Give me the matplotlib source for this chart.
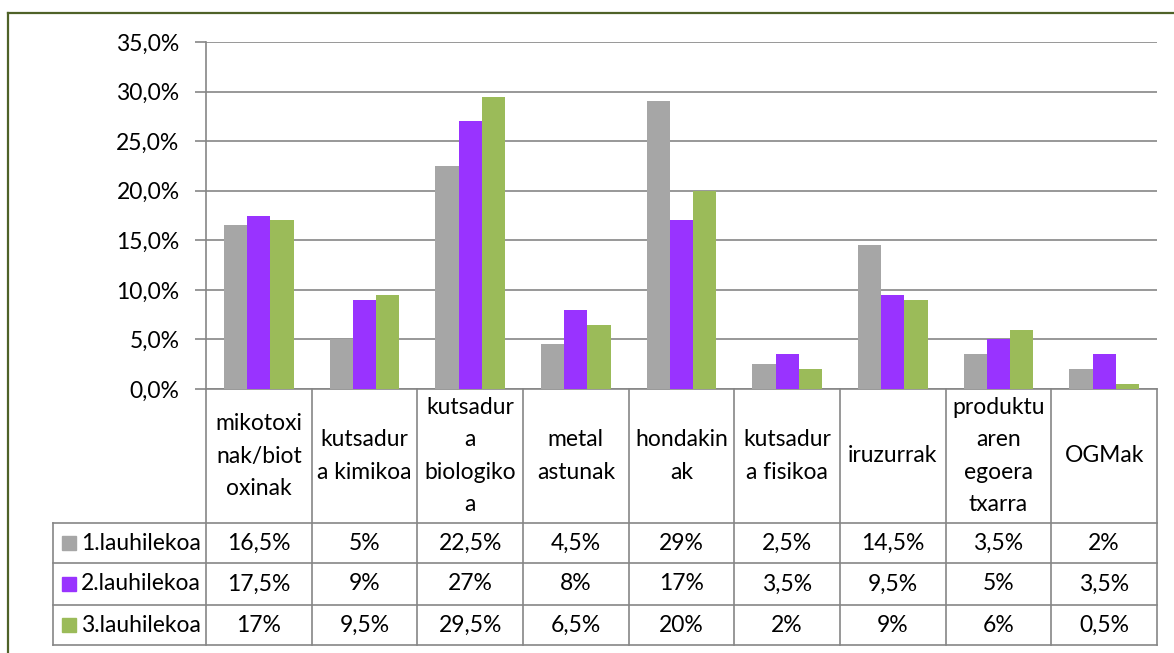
import numpy as np
import matplotlib
matplotlib.use('Agg')
import matplotlib.pyplot as plt
from matplotlib.lines import Line2D
from matplotlib.patches import Rectangle
from matplotlib.transforms import blended_transform_factory

plt.rcParams['font.family'] = ['Lato', 'DejaVu Sans']

# data
categories = ['mikotoxi\nnak/biot\noxinak', 'kutsadur\na kimikoa',
              'kutsadur\na\nbiologiko\na', 'metal\nastunak', 'hondakin\nak',
              'kutsadur\na fisikoa', 'iruzurrak',
              'produktu\naren\negoera\ntxarra', 'OGMak']
series_names = ['1.lauhilekoa', '2.lauhilekoa', '3.lauhilekoa']
lauhil_1 = [16.5, 5, 22.5, 4.5, 29, 2.5, 14.5, 3.5, 2]
lauhil_2 = [17.5, 9, 27, 8, 17, 3.5, 9.5, 5, 3.5]
lauhil_3 = [17, 9.5, 29.5, 6.5, 20, 2, 9, 6, 0.5]
yticks = [0, 5, 10, 15, 20, 25, 30, 35]

colors = ['#A6A6A6', '#9933FF', '#9BBB59']
grid_c = '#868686'
W, H = 1174, 653
FS = 16.5


def pct(v):
    if float(v).is_integer():
        return '%d%%' % v
    return ('%.1f%%' % v).replace('.', ',')


fig = plt.figure(figsize=(W / 100, H / 100), dpi=100)
ax = fig.add_axes([206 / W, 1 - 389 / H, (1157 - 206) / W, (389 - 42) / H])

x = np.arange(len(categories))
bw = 0.22
for i, vals in enumerate([lauhil_1, lauhil_2, lauhil_3]):
    ax.bar(x + (i - 1) * bw, vals, bw, color=colors[i], zorder=3)

ax.set_xlim(-0.5, len(categories) - 0.5)
ax.set_ylim(0, 35)
ax.set_yticks(yticks)
ax.set_yticklabels([('%.1f%%' % t).replace('.', ',') for t in yticks], fontsize=FS)
ax.yaxis.grid(True, color=grid_c, lw=1.2, zorder=0)
ax.tick_params(axis='y', length=8, width=1.2, color=grid_c, pad=11)
ax.set_xticks([])
for s in ['top', 'right']:
    ax.spines[s].set_visible(False)
for s in ['left', 'bottom']:
    ax.spines[s].set_color(grid_c)
    ax.spines[s].set_linewidth(1.2)

# data table below the axes
fy = lambda py: 1 - py / H
tr = blended_transform_factory(ax.transData, fig.transFigure)
row_y = [523, 563, 605, 645]
x_left = 53 / W
x_right = 1157 / W
for py in row_y:
    fig.add_artist(Line2D([x_left, x_right], [fy(py)] * 2, color=grid_c, lw=1.2))
fig.add_artist(Line2D([x_left, x_left], [fy(523), fy(645)], color=grid_c, lw=1.2))
for b in np.arange(-0.5, len(categories), 1.0):
    fig.add_artist(Line2D([b, b], [fy(389), fy(645)], color=grid_c, lw=1.2, transform=tr))

for i, c in enumerate(categories):
    fig.text(i, fy(456), c, transform=tr, ha='center', va='center',
             fontsize=FS, linespacing=1.65)

for r, (name, vals) in enumerate(zip(series_names, [lauhil_1, lauhil_2, lauhil_3])):
    yc = (row_y[r] + row_y[r + 1]) / 2
    fig.add_artist(Rectangle((62 / W, fy(yc + 7)), 14 / W, 14 / H,
                             transform=fig.transFigure, color=colors[r]))
    fig.text(81 / W, fy(yc), name, ha='left', va='center', fontsize=FS)
    for i, v in enumerate(vals):
        fig.text(i, fy(yc), pct(v), transform=tr, ha='center', va='center', fontsize=FS)

# outer frame
frame_c = '#4F6228'
fig.add_artist(Line2D([8 / W, 1], [fy(13)] * 2, color=frame_c, lw=1.6))
fig.add_artist(Line2D([8 / W] * 2, [fy(13), 0], color=frame_c, lw=1.6))

fig.savefig('out.png', dpi=100)
